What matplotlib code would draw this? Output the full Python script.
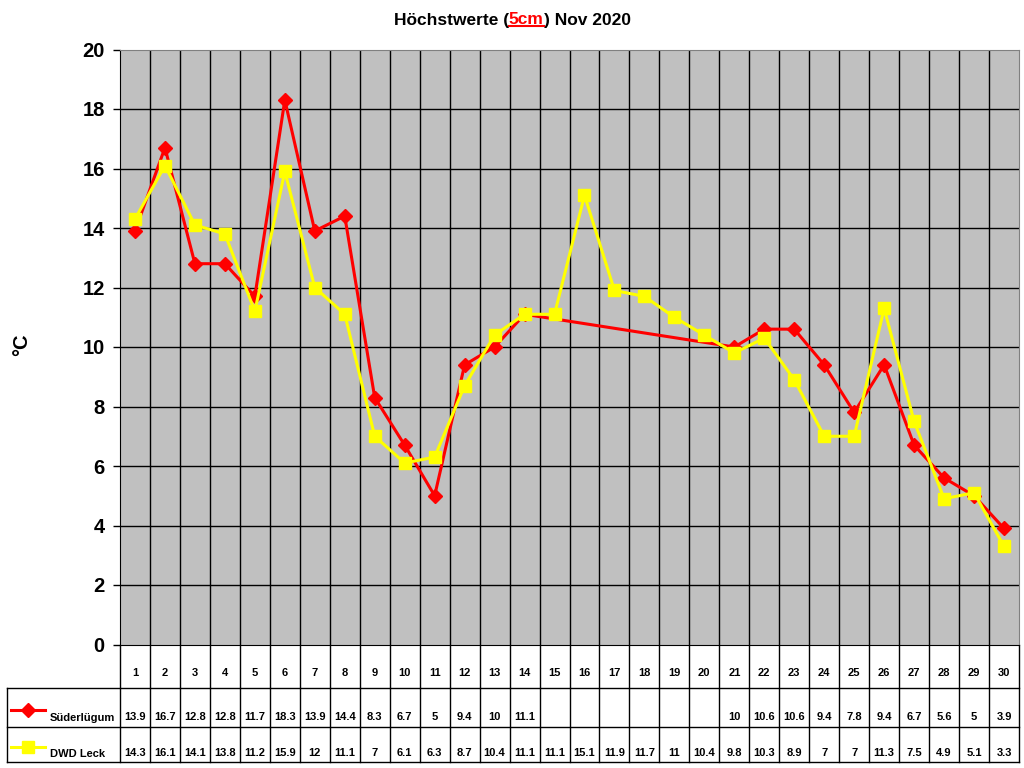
import numpy as np
import matplotlib.pyplot as plt
from matplotlib.lines import Line2D

plt.rcParams['font.family'] = ['Liberation Sans', 'DejaVu Sans']

days = list(range(1, 31))
sued = [13.9, 16.7, 12.8, 12.8, 11.7, 18.3, 13.9, 14.4, 8.3, 6.7, 5, 9.4, 10, 11.1,
        None, None, None, None, None, None,
        10, 10.6, 10.6, 9.4, 7.8, 9.4, 6.7, 5.6, 5, 3.9]
leck = [14.3, 16.1, 14.1, 13.8, 11.2, 15.9, 12, 11.1, 7, 6.1, 6.3, 8.7, 10.4, 11.1,
        11.1, 15.1, 11.9, 11.7, 11, 10.4, 9.8, 10.3, 8.9, 7, 7, 11.3, 7.5, 4.9, 5.1, 3.3]
series_names = ["Süderlügum", "DWD Leck"]
yticks = list(range(0, 21, 2))

W, H = 1024, 768
fig = plt.figure(figsize=(W / 100, H / 100), dpi=100)

# plot area in pixels
L, R, T, B = 120, 1019, 49.5, 644.5
ax = fig.add_axes([L / W, 1 - B / H, (R - L) / W, (B - T) / H])
ax.set_facecolor('#C0C0C0')
ax.set_xlim(0.5, 30.5)
ax.set_ylim(0, 20)

for k in range(1, 30):
    ax.axvline(k + 0.5, color='black', lw=1, zorder=1)
for v in yticks[1:-1]:
    ax.axhline(v, color='black', lw=1, zorder=1)

ax.set_yticks(yticks)
ax.set_yticklabels([str(v) for v in yticks], fontsize=14.5, fontweight='bold')
ax.tick_params(axis='y', length=5, width=1, pad=6)
ax.set_xticks([])
ax.spines['top'].set_color('#808080')
ax.spines['right'].set_color('#808080')
ax.spines['left'].set_color('black')
ax.spines['bottom'].set_color('black')

sx = [d for d, v in zip(days, sued) if v is not None]
sy = [v for v in sued if v is not None]
ax.plot(sx, sy, color='red', lw=2.2, marker='D', ms=7.5, mfc='red', mec='red', zorder=3)
ax.plot(days, leck, color='yellow', lw=2.2, marker='s', ms=8.5, mfc='yellow', mec='yellow', zorder=4)

fig.text(22 / W, 1 - 345 / H, '°C', rotation=90, fontsize=14.5, fontweight='bold',
         ha='center', va='center')

# title with coloured part
t1 = fig.text(0.5, 1 - 20 / H, 'Höchstwerte (', fontsize=12.5, fontweight='bold',
              ha='left', va='center')
t2 = ax.annotate('5cm', xy=(1, 0), xycoords=t1, fontsize=12.5, fontweight='bold',
                 color='red', va='bottom', ha='left')
t3 = ax.annotate(') Nov 2020', xy=(1, 0), xycoords=t2, fontsize=12.5, fontweight='bold',
                 va='bottom', ha='left')
fig.canvas.draw()
r = fig.canvas.get_renderer()
b1 = t1.get_window_extent(r)
b3 = t3.get_window_extent(r)
total = b3.x1 - b1.x0
t1.set_x((W / 2 - total / 2) / W)
fig.canvas.draw()
b2 = t2.get_window_extent(r)
fig.add_artist(Line2D([b2.x0 / W, b2.x1 / W], [(b2.y0 + 1.5) / H, (b2.y0 + 1.5) / H],
                      color='red', lw=1.5, transform=fig.transFigure))

# data table below the plot
tab = fig.add_axes([0, 0, 1, 1], zorder=-1)
tab.set_xlim(0, W)
tab.set_ylim(H, 0)
tab.axis('off')
cw = (R - L) / 30
rows = [644.5, 688, 727, 762]
tab.plot([7, R], [rows[1], rows[1]], color='black', lw=1)
tab.plot([7, R], [rows[2], rows[2]], color='black', lw=1)
tab.plot([7, R], [rows[3], rows[3]], color='black', lw=1)
tab.plot([7, 7], [rows[1], rows[3]], color='black', lw=1)
for k in range(31):
    x = L + k * cw
    tab.plot([x, x], [rows[0], rows[3]], color='black', lw=1)

for i, d in enumerate(days):
    xc = L + (i + 0.5) * cw
    tab.text(xc, 673, str(d), fontsize=8, fontweight='bold', ha='center', va='center')
    for vals, y in ((sued, 717), (leck, 753)):
        v = vals[i]
        if v is not None:
            tab.text(xc, y, f'{v:g}', fontsize=8, fontweight='bold', ha='center', va='center')

# legend keys in the table
tab.plot([11, 45], [710, 710], color='red', lw=2.2)
tab.plot([28], [710], marker='D', ms=7.5, color='red')
tab.text(50, 718, series_names[0], fontsize=8, fontweight='bold', ha='left', va='center')
tab.plot([11, 45], [747, 747], color='yellow', lw=2.2)
tab.plot([28], [747], marker='s', ms=8.5, color='yellow')
tab.text(50, 754, series_names[1], fontsize=8, fontweight='bold', ha='left', va='center')

fig.savefig('out.png', dpi=100)
